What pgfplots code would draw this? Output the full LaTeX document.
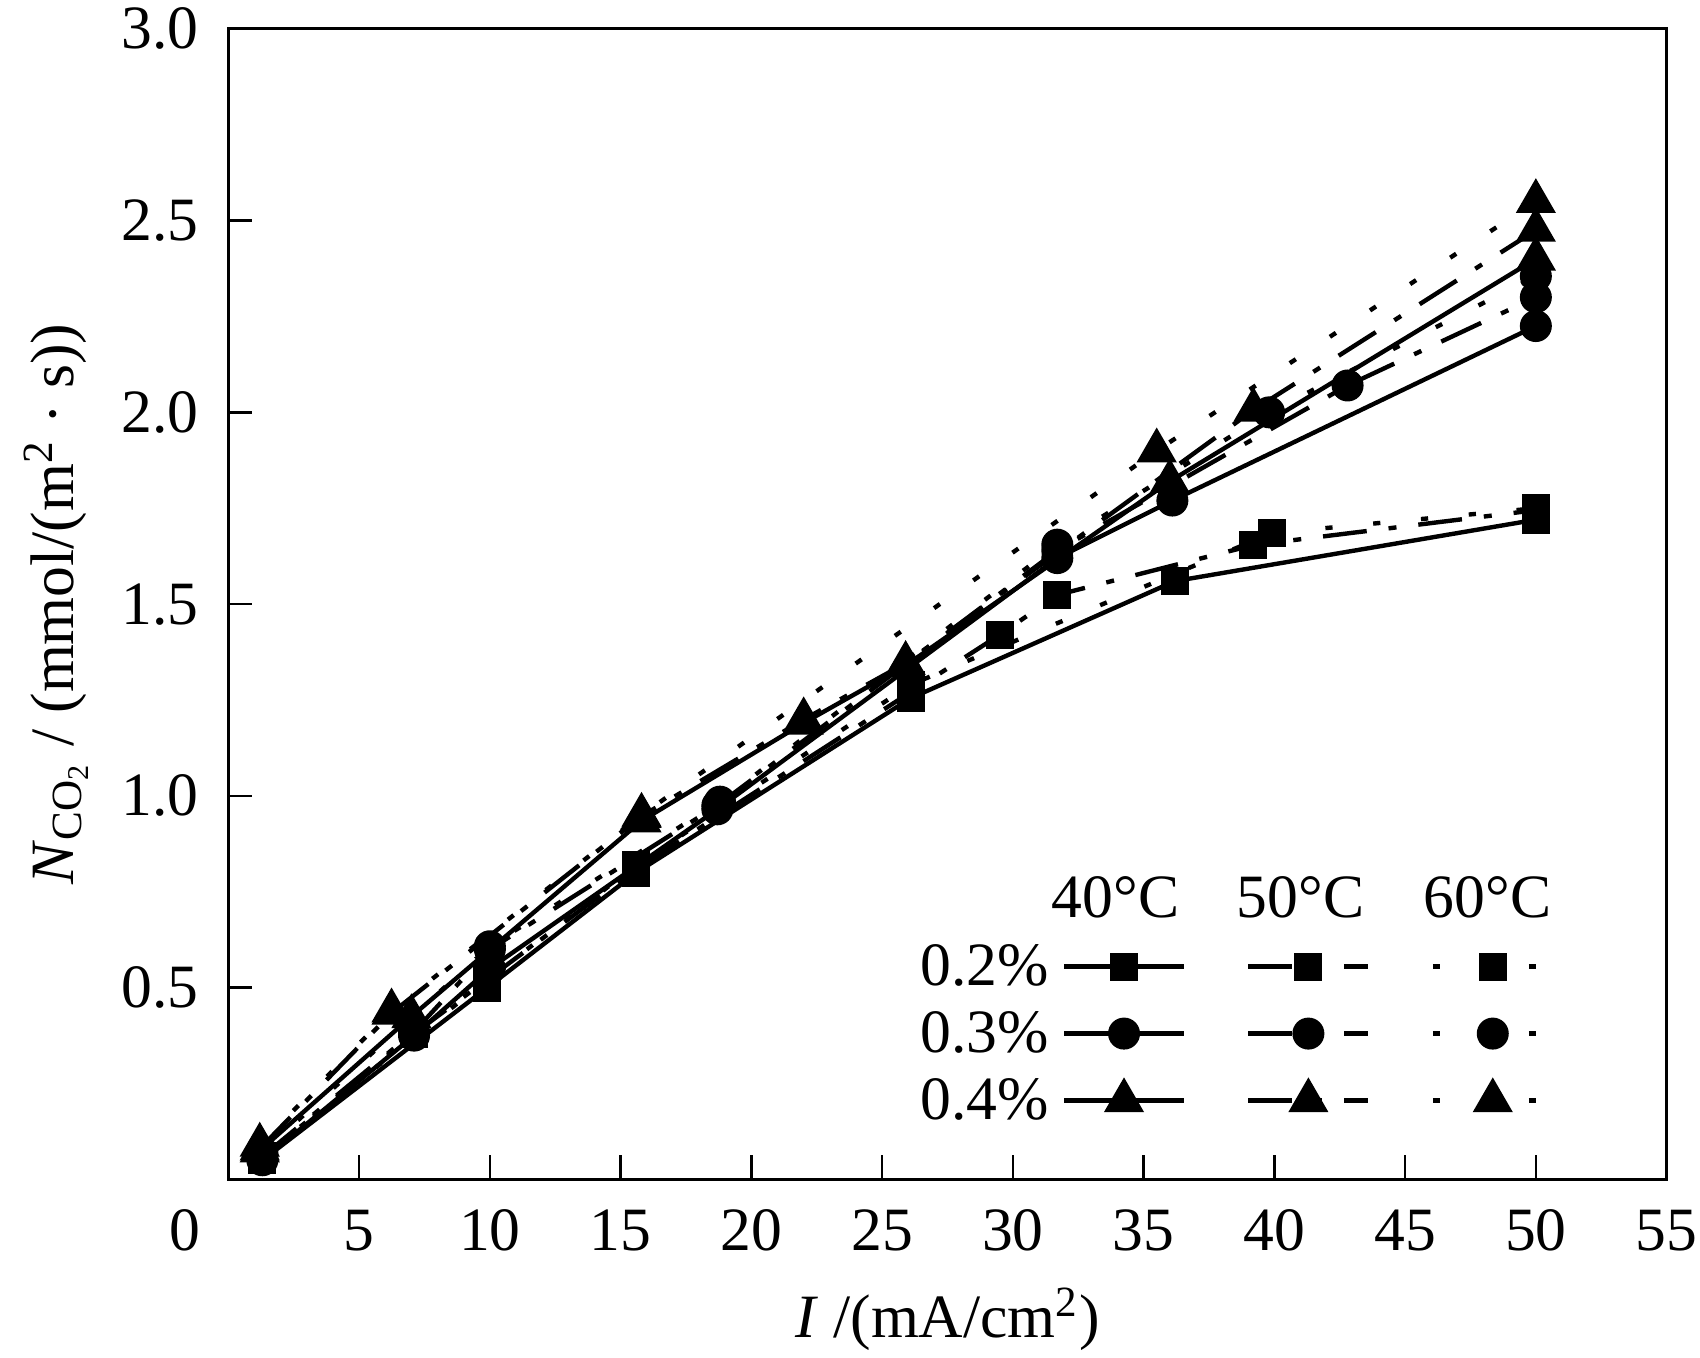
\documentclass[border=0pt]{standalone}
\usepackage{fontspec}
\setmainfont{Liberation Serif}
\usepackage{pgfplots}
\pgfplotsset{compat=1.18}
\newcommand\fs{\fontsize{15.4pt}{18pt}\selectfont}
\pgfplotsset{
  m1/.style={mark=square*, mark size=3.3pt},
  m2/.style={mark=*, mark size=3.8pt},
  m3/.style={mark=triangle*, mark size=5.4pt},
  t40/.style={solid, line width=1.1pt, black, mark options={solid, fill=black, line width=0.4pt}},
  t50/.style={dash pattern=on 11pt off 5.5pt on 2pt off 5.5pt, line width=1.1pt, black, mark options={solid, fill=black, line width=0.4pt}},
  t60/.style={dash pattern=on 1.8pt off 10.2pt, line width=1.1pt, black, mark options={solid, fill=black, line width=0.4pt}},
}
\begin{document}
\fs
\begin{tikzpicture}
\begin{axis}[
  scale only axis, width=359.6pt, height=287.7pt,
  xmin=0, xmax=55, ymin=0, ymax=3,
  axis line style={line width=0.67pt},
  every tick/.style={line width=0.67pt, black},
  tick align=inside, major tick length=6pt,
  xtick={5,10,...,55}, ytick={0.5,1,...,3},
  extra x ticks={0},
  extra x tick style={major tick length=0pt, xticklabel style={xshift=-10.8pt}},
  xtick pos=lower, ytick pos=left,
  /pgf/number format/assume math mode=true,
  ticklabel style={font=\fs},
  xticklabel style={inner sep=0pt, yshift=-7.4pt},
  yticklabel style={inner sep=0pt, xshift=-7.2pt, /pgf/number format/.cd, fixed, fixed zerofill, precision=1},
  every axis x label/.style={at={([yshift=-39.5pt]axis description cs:0.5,0)}, anchor=base, font=\fs},
  every axis y label/.style={at={([xshift=-38.8pt]axis description cs:0,0.5)}, anchor=base, rotate=90, font=\fs},
  xlabel={\textit{I} /(mA/cm\textsuperscript{2})},
  ylabel={\textit{N}\textsubscript{CO\textsubscript{2}} / (mmol/(m\textsuperscript{2} · s))},
  legend columns=3,
  legend style={draw=none, fill=none, inner sep=0pt, outer sep=0pt, column sep=0pt, row sep=0pt,
    at={(0.5795,0.2141)}, anchor=north west,
    nodes={inner sep=0pt, minimum width=15pt, minimum height=16.75pt, text depth=0pt},
    cells={anchor=center}},
  legend image code/.code={\draw[mark repeat=2,mark phase=2,#1] plot coordinates {(0pt,0pt) (15pt,0pt) (30pt,0pt)};},
]
% 0.2% 40C
\addplot[t40, m1] coordinates {(1.3,0.05) (9.9,0.50) (15.6,0.80) (26.1,1.255) (36.2,1.56) (50,1.72)};
\addlegendentry{}
% 0.2% 50C
\addplot[t50, m1] coordinates {(1.3,0.055) (7.1,0.38) (15.6,0.81) (29.5,1.42) (31.7,1.524) (39.2,1.654) (50,1.745)};
\addlegendentry{}
% 0.2% 60C
\addplot[t60, m1] coordinates {(1.3,0.06) (9.9,0.52) (15.6,0.82) (26.1,1.29) (39.9,1.685) (50,1.75)};
\addlegendentry{}
% 0.3% 40C
\addplot[t40, m2] coordinates {(1.3,0.05) (7.1,0.375) (10,0.55) (18.7,0.965) (31.7,1.62) (36.1,1.77) (50,2.225)};
\addlegendentry{}
% 0.3% 50C
\addplot[t50, m2] coordinates {(1.3,0.06) (7.1,0.385) (10,0.60) (18.7,0.975) (31.7,1.64) (42.8,2.07) (50,2.30)};
\addlegendentry{}
% 0.3% 60C
\addplot[t60, m2] coordinates {(1.3,0.07) (10,0.608) (18.8,0.985) (31.7,1.655) (39.8,2.0) (50,2.355)};
\addlegendentry{}
% 0.4% 40C
\addplot[t40, m3] coordinates {(1.2,0.075) (7.0,0.425) (15.8,0.935) (22.0,1.19) (25.9,1.34) (36.0,1.82) (50,2.40)};
\addlegendentry{}
% 0.4% 50C
\addplot[t50, m3] coordinates {(1.2,0.08) (6.24,0.434) (15.8,0.947) (22.0,1.199) (25.9,1.346) (39.2,2.006) (50,2.475)};
\addlegendentry{}
% 0.4% 60C
\addplot[t60, m3] coordinates {(1.2,0.09) (6.24,0.44) (15.8,0.95) (35.5,1.90) (50,2.55)};
\addlegendentry{}
% legend labels
\node[anchor=base, inner sep=0pt, font=\fs] at (axis cs:33.93,0.6826) {40°C};
\node[anchor=base, inner sep=0pt, font=\fs] at (axis cs:41.0,0.6826) {50°C};
\node[anchor=base, inner sep=0pt, font=\fs] at (axis cs:48.15,0.6826) {60°C};
\node[anchor=base east, inner sep=0pt, font=\fs] at (axis cs:31.41,0.5055) {0.2\%};
\node[anchor=base east, inner sep=0pt, font=\fs] at (axis cs:31.41,0.3300) {0.3\%};
\node[anchor=base east, inner sep=0pt, font=\fs] at (axis cs:31.41,0.1560) {0.4\%};
\coordinate (bl) at (rel axis cs:0,0);
\coordinate (tr) at (rel axis cs:1,1);
\end{axis}
\pgfresetboundingbox
\path ([xshift=-57.1pt,yshift=-44.4pt]bl) rectangle ([xshift=8.35pt,yshift=7.2pt]tr);
\end{tikzpicture}
\end{document}
